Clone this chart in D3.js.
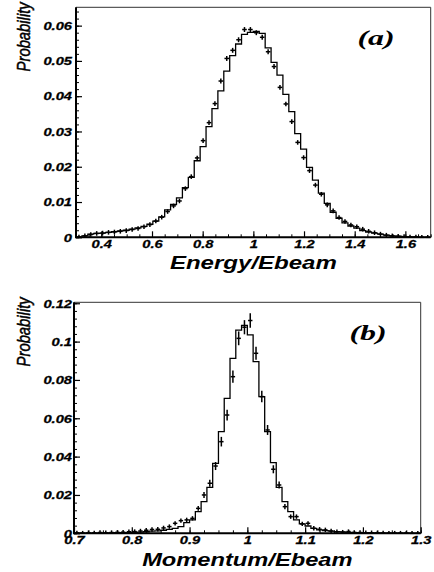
<!DOCTYPE html>
<html><head><meta charset="utf-8">
<script src="https://cdn.jsdelivr.net/npm/d3@7"></script>
<style>body{margin:0;background:#fff} svg{display:block}</style>
</head><body><svg id="c" width="434" height="572"></svg>
<script>
// ---------- Panel (a): Energy/Ebeam, 60 bins over [0.3, 1.7] ----------
const binRangeA = [0.3, 1.7];
const histA = [0.0000,0.0004,0.0009,0.0011,0.0012,0.0014,0.0016,0.0018,0.0020,0.0023,
  0.0027,0.0031,0.0037,0.0046,0.0058,0.0078,0.0093,0.0112,0.0141,0.0170,
  0.0217,0.0257,0.0314,0.0365,0.0415,0.0471,0.0515,0.0548,0.0575,0.0581,
  0.0584,0.0578,0.0537,0.0496,0.0460,0.0405,0.0356,0.0294,0.0250,0.0198,
  0.0162,0.0125,0.0096,0.0071,0.0054,0.0041,0.0032,0.0026,0.0019,0.0015,
  0.0012,0.0009,0.0006,0.0004,0.0003,0.0002,0.0001,0.0001,0.0000,0.0000];
const dataA = [0.0001,0.0004,0.0008,0.0011,0.0012,0.0014,0.0015,0.0017,0.0019,0.0022,
  0.0025,0.0030,0.0036,0.0046,0.0057,0.0073,0.0089,0.0103,0.0138,0.0172,
  0.0225,0.0274,0.0325,0.0379,0.0443,0.0507,0.0530,0.0560,0.0589,0.0589,
  0.0580,0.0567,0.0526,0.0484,0.0425,0.0378,0.0328,0.0269,0.0226,0.0189,
  0.0148,0.0122,0.0092,0.0075,0.0056,0.0045,0.0035,0.0030,0.0023,0.0017,
  0.0013,0.0009,0.0006,0.0004,0.0003,0.0002,0.0001,0.0001,0.0000,0.0000];
const errA = [0.0001,0.0002,0.0002,0.0002,0.0002,0.0002,0.0002,0.0002,0.0002,0.0002,
  0.0003,0.0003,0.0003,0.0003,0.0004,0.0004,0.0004,0.0005,0.0005,0.0005,
  0.0006,0.0006,0.0006,0.0006,0.0007,0.0007,0.0007,0.0007,0.0007,0.0007,
  0.0007,0.0007,0.0007,0.0007,0.0007,0.0006,0.0006,0.0006,0.0006,0.0005,
  0.0005,0.0005,0.0004,0.0004,0.0004,0.0003,0.0003,0.0003,0.0003,0.0002,
  0.0002,0.0002,0.0002,0.0002,0.0001,0.0001,0.0001,0.0001,0.0000,0.0000];
const xTicksA = [0.4,0.6,0.8,1.0,1.2,1.4,1.6];
const xTickLabelsA = ["0.4","0.6","0.8","1","1.2","1.4","1.6"];
const yTicksA = [0,0.01,0.02,0.03,0.04,0.05,0.06];
const yTickLabelsA = ["0","0.01","0.02","0.03","0.04","0.05","0.06"];

// ---------- Panel (b): Momentum/Ebeam, 60 bins over [0.7, 1.3] ----------
const binRangeB = [0.7, 1.3];
const histB = [0.0001,0.0001,0.0001,0.0001,0.0001,0.0002,0.0002,0.0003,0.0003,0.0004,
  0.0005,0.0006,0.0008,0.0011,0.0013,0.0016,0.0020,0.0026,0.0035,0.0056,
  0.0070,0.0113,0.0165,0.0240,0.0365,0.0530,0.0704,0.0913,0.1060,0.1085,
  0.1035,0.0896,0.0713,0.0530,0.0369,0.0240,0.0165,0.0113,0.0070,0.0049,
  0.0038,0.0026,0.0018,0.0014,0.0011,0.0009,0.0007,0.0005,0.0004,0.0004,
  0.0003,0.0002,0.0002,0.0001,0.0001,0.0001,0.0001,0.0001,0.0000,0.0000];
const dataB = [0.0002,0.0001,0.0003,0.0002,0.0004,0.0003,0.0004,0.0005,0.0006,0.0008,
  0.0009,0.0012,0.0016,0.0020,0.0021,0.0028,0.0035,0.0052,0.0066,0.0070,
  0.0078,0.0130,0.0200,0.0261,0.0351,0.0478,0.0617,0.0817,0.1017,0.1075,
  0.1110,0.0939,0.0713,0.0539,0.0334,0.0252,0.0139,0.0087,0.0087,0.0049,
  0.0052,0.0026,0.0021,0.0018,0.0012,0.0008,0.0006,0.0009,0.0005,0.0004,
  0.0003,0.0003,0.0002,0.0002,0.0001,0.0001,0.0001,0.0001,0.0000,0.0000];
const errB = [0.0002,0.0002,0.0002,0.0002,0.0002,0.0002,0.0002,0.0002,0.0002,0.0002,
  0.0002,0.0003,0.0004,0.0004,0.0005,0.0005,0.0006,0.0008,0.0009,0.0009,
  0.0010,0.0013,0.0016,0.0018,0.0021,0.0025,0.0028,0.0032,0.0036,0.0037,
  0.0038,0.0034,0.0030,0.0026,0.0021,0.0018,0.0014,0.0011,0.0011,0.0008,
  0.0008,0.0006,0.0005,0.0005,0.0004,0.0003,0.0002,0.0003,0.0002,0.0002,
  0.0002,0.0002,0.0002,0.0002,0.0001,0.0001,0.0001,0.0001,0.0000,0.0000];
const xTicksB = [0.7,0.8,0.9,1.0,1.1,1.2,1.3];
const xTickLabelsB = ["0.7","0.8","0.9","1","1.1","1.2","1.3"];
const yTicksB = [0,0.02,0.04,0.06,0.08,0.10,0.12];
const yTickLabelsB = ["0","0.02","0.04","0.06","0.08","0.1","0.12"];

const svg = d3.select("#c");
const SANS = "'Liberation Sans', Arial, Helvetica, sans-serif";
const SERIF = "'Liberation Serif', 'Times New Roman', serif";

function drawPanel(p) {
  const g = svg.append("g");
  const x = d3.scaleLinear().domain(p.xDomain).range([p.L, p.R]);
  const y = d3.scaleLinear().domain(p.yDomain).range([p.B, p.T]);
  const n = p.hist.length;
  const edges = d3.range(n + 1).map(i => p.bins[0] + (p.bins[1] - p.bins[0]) * i / n);

  // frame top & right (thin)
  g.append("path").attr("d", `M${p.L},${p.T}H${p.R}V${p.B}`)
    .attr("fill", "none").attr("stroke", "#333").attr("stroke-width", 1);

  // minor ticks
  const xMinor = d3.range(p.xDomain[0], p.xDomain[1] + 1e-9, p.xMinorStep);
  const yMinor = d3.range(p.yDomain[0], p.yDomain[1] + 1e-9, p.yMinorStep);
  g.append("g").attr("transform", `translate(0,${p.B})`)
    .call(d3.axisBottom(x).tickValues(xMinor).tickSize(-3).tickFormat(""))
    .call(a => a.select(".domain").remove())
    .selectAll("line").attr("stroke", "#000").attr("stroke-width", 1);
  g.append("g").attr("transform", `translate(${p.L},0)`)
    .call(d3.axisLeft(y).tickValues(yMinor).tickSize(-3).tickFormat(""))
    .call(a => a.select(".domain").remove())
    .selectAll("line").attr("stroke", "#000").attr("stroke-width", 1);

  // major ticks with labels
  const labelStyle = s => s.attr("fill", "#000").attr("font-family", SANS)
    .attr("font-weight", "bold").attr("font-style", "italic")
    .attr("font-size", p.labelFS + "px").attr("stroke", "#000").attr("stroke-width", 0.25);
  const xa = g.append("g").attr("transform", `translate(0,${p.B})`)
    .call(d3.axisBottom(x).tickValues(p.xTicks).tickSize(-6).tickPadding(0)
      .tickFormat((d, i) => p.xLabels[i]));
  xa.select(".domain").remove();
  xa.selectAll("line").attr("stroke", "#000").attr("stroke-width", 1.2);
  xa.selectAll("text").attr("y", null).attr("dy", null)
    .attr("transform", `translate(0,${p.xLabelDy}) scale(${p.labelSX},1)`)
    .call(labelStyle);

  const ya = g.append("g").attr("transform", `translate(${p.L},0)`)
    .call(d3.axisLeft(y).tickValues(p.yTicks).tickSize(-6).tickPadding(0)
      .tickFormat((d, i) => p.yLabels[i]));
  ya.select(".domain").remove();
  ya.selectAll("line").attr("stroke", "#000").attr("stroke-width", 1.2);
  ya.selectAll("text").attr("x", null).attr("dy", null)
    .attr("transform", `translate(${-p.yLabelGap},3.8) scale(${p.labelSX},1)`)
    .call(labelStyle);

  // histogram (step outline)
  let d = `M${x(edges[0])},${y(0)}`;
  p.hist.forEach((v, i) => { d += `V${y(v)}H${x(edges[i + 1])}`; });
  d += `V${y(0)}`;
  g.append("path").attr("d", d).attr("fill", "none")
    .attr("stroke", "#000").attr("stroke-width", 1.3);

  // data points with error bars
  const pts = g.append("g").attr("stroke", "#000").attr("stroke-width", 1.5);
  p.data.forEach((v, i) => {
    const cx = x((edges[i] + edges[i + 1]) / 2);
    const cy = y(v);
    const hi = Math.min(y(v + p.err[i]), cy - p.markV);
    const lo = Math.max(y(Math.max(0, v - p.err[i])), cy + p.markV);
    pts.append("line").attr("x1", cx).attr("x2", cx)
      .attr("y1", hi).attr("y2", Math.min(lo, p.B));
    pts.append("line").attr("x1", cx - p.markH).attr("x2", cx + p.markH)
      .attr("y1", cy).attr("y2", cy);
  });

  // axis lines (thick left & bottom)
  g.append("path").attr("d", `M${p.L},${p.T}V${p.B}H${p.R}`)
    .attr("fill", "none").attr("stroke", "#000").attr("stroke-width", 2);

  // x title
  g.append("text").attr("transform", `translate(${(p.L + p.R) / 2},${p.xTitleY}) scale(${p.titleSX},1)`)
    .attr("text-anchor", "middle").attr("font-family", SANS).attr("font-weight", "bold")
    .attr("font-style", "italic").attr("font-size", p.titleFS + "px").text(p.xTitle);
  // y title
  g.append("text").attr("transform", `translate(${p.yTitleX},${p.T - 5}) rotate(-90) scale(0.8,1)`)
    .attr("text-anchor", "end").attr("font-family", SANS)
    .attr("font-style", "italic").attr("font-size", "18.5px")
    .attr("stroke", "#000").attr("stroke-width", 0.5).text("Probability");
  // tag
  g.append("text").attr("transform", `translate(${p.tagX},${p.tagY}) scale(1.45,1)`)
    .attr("text-anchor", "middle").attr("font-family", SERIF).attr("font-weight", "bold")
    .attr("font-style", "italic").attr("font-size", "22px").text(p.tag);
}

drawPanel({
  L: 76, R: 430.7, T: 7.3, B: 237.3,
  xDomain: [0.3, 1.7], yDomain: [0, 0.0652], bins: binRangeA,
  hist: histA, data: dataA, err: errA,
  xTicks: xTicksA, xLabels: xTickLabelsA, xMinorStep: 0.05,
  yTicks: yTicksA, yLabels: yTickLabelsA, yMinorStep: 0.002,
  labelFS: 10.5, labelSX: 1.4, xLabelDy: 11, yLabelGap: 4,
  xTitle: "Energy/Ebeam", xTitleY: 268.5, titleFS: 18.5, titleSX: 1.3,
  yTitleX: 30, tag: "(a)", tagX: 376, tagY: 45,
  markH: 2.3, markV: 2.3
});
drawPanel({
  L: 74, R: 420.7, T: 302.3, B: 533.3,
  xDomain: [0.7, 1.3], yDomain: [0, 0.1205], bins: binRangeB,
  hist: histB, data: dataB, err: errB,
  xTicks: xTicksB, xLabels: xTickLabelsB, xMinorStep: 0.025,
  yTicks: yTicksB, yLabels: yTickLabelsB, yMinorStep: 0.004,
  labelFS: 10.5, labelSX: 1.4, xLabelDy: 10.5, yLabelGap: 2,
  xTitle: "Momentum/Ebeam", xTitleY: 566, titleFS: 18.5, titleSX: 1.28,
  yTitleX: 30, tag: "(b)", tagX: 368, tagY: 340,
  markH: 2.2, markV: 2.2
});
</script></body></html>
